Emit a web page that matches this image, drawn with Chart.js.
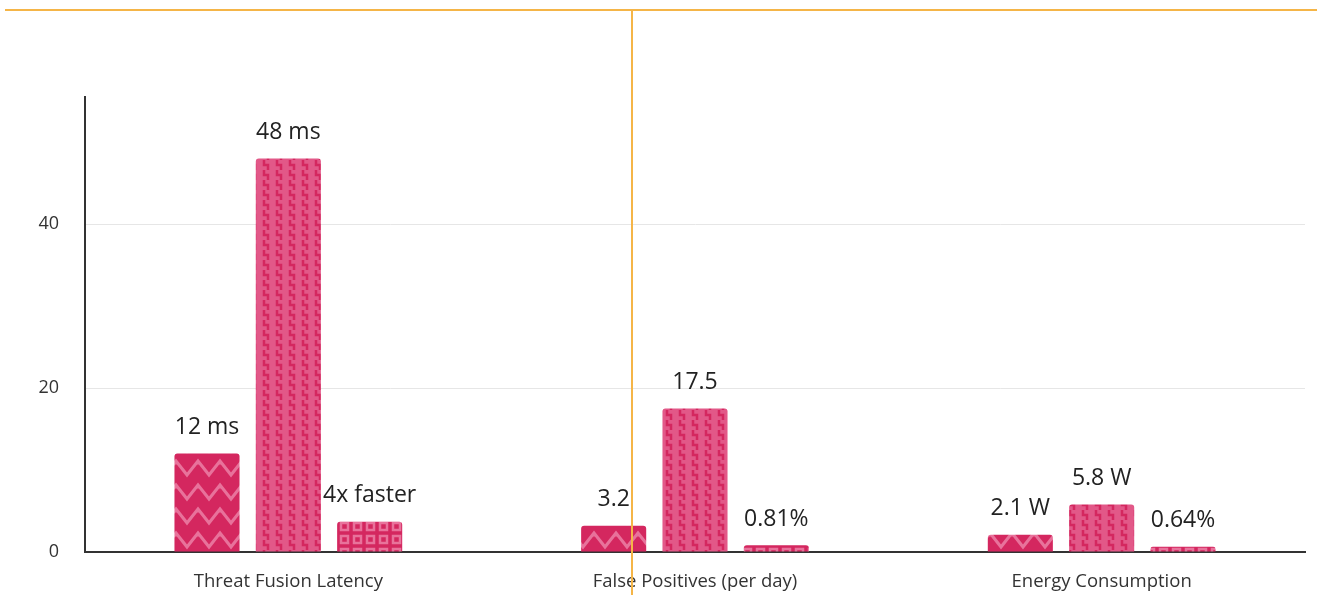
<!DOCTYPE html>
<html>
<head>
<meta charset="utf-8">
<script src="https://cdn.jsdelivr.net/npm/chart.js@4.4.1/dist/chart.umd.min.js"></script>
<style>
  html, body { margin: 0; padding: 0; background: #fff; }
  #wrap { width: 1320px; height: 595px; position: relative; }
</style>
</head>
<body>
<div id="wrap"><canvas id="myChart"></canvas></div>
<script>
// categories and series
const categories = ['Threat Fusion Latency', 'False Positives (per day)', 'Energy Consumption']
const fusedValues = [12, 3.2, 2.1]
const baselineValues = [48, 17.5, 5.8]
const gainValues = [3.7, 0.81, 0.64]
const fusedLabels = ['12 ms', '3.2', '2.1 W']
const baselineLabels = ['48 ms', '17.5', '5.8 W']
const gainLabels = ['4x faster', '0.81%', '0.64%']
const yTicks = [0, 20, 40]

const FONT = '"Open Sans", Lato, sans-serif'
const BASE = '#d4275f'
const LIGHT = '#e8729b'

function makeTile(w, h, draw) {
    let c = document.createElement('canvas')
    c.width = w
    c.height = h
    let g = c.getContext('2d')
    draw(g, w, h)
    return g.createPattern(c, 'repeat')
}

// zigzag lines
let zigzag = makeTile(22, 24, function(g, w, h) {
    g.fillStyle = BASE
    g.fillRect(0, 0, w, h)
    g.strokeStyle = LIGHT
    g.lineWidth = 3.2
    g.beginPath()
    g.moveTo(-5.5, 19)
    g.lineTo(0, 5)
    g.lineTo(11, 19)
    g.lineTo(22, 5)
    g.lineTo(27.5, 19)
    g.stroke()
})

// columns of little steps
let steps = makeTile(13, 10, function(g, w, h) {
    g.fillStyle = '#e25888'
    g.fillRect(0, 0, w, h)
    g.strokeStyle = BASE
    g.lineWidth = 2.5
    g.beginPath()
    g.moveTo(4, -1)
    g.lineTo(4, 5)
    g.lineTo(8, 5)
    g.lineTo(8, 11)
    g.stroke()
})

// square grid
let squares = makeTile(13, 13, function(g, w, h) {
    g.fillStyle = BASE
    g.fillRect(0, 0, w, h)
    g.strokeStyle = LIGHT
    g.lineWidth = 2.5
    g.strokeRect(3, 3, 7, 7)
})

const valueLabels = {
    id: 'valueLabels',
    afterDatasetsDraw(chart) {
        let ctx = chart.ctx
        ctx.save()
        ctx.font = '23px ' + FONT
        ctx.fillStyle = '#222'
        ctx.textAlign = 'center'
        ctx.textBaseline = 'middle'
        chart.data.datasets.forEach(function(ds, i) {
            chart.getDatasetMeta(i).data.forEach(function(bar, j) {
                ctx.fillText(ds.valueText[j], bar.x, bar.y - 26)
            })
        })
        ctx.restore()
    }
}

// thin orange guide lines across the top and down the middle
const guides = {
    id: 'guides',
    afterDraw(chart) {
        let ctx = chart.ctx
        ctx.save()
        ctx.strokeStyle = '#f5b547'
        ctx.lineWidth = 2
        ctx.beginPath()
        ctx.moveTo(5, 10)
        ctx.lineTo(chart.width - 3, 10)
        ctx.moveTo(632, 10)
        ctx.lineTo(632, chart.height)
        ctx.stroke()
        ctx.restore()
    }
}

var ctx = document.getElementById('myChart').getContext('2d')

var chart = new Chart(ctx, {
    type: 'bar',
    data: {
        labels: categories,
        datasets: [{
            label: 'Fused',
            data: fusedValues,
            valueText: fusedLabels,
            backgroundColor: zigzag
        }, {
            label: 'Baseline',
            data: baselineValues,
            valueText: baselineLabels,
            backgroundColor: steps
        }, {
            label: 'Gain',
            data: gainValues,
            valueText: gainLabels,
            backgroundColor: squares
        }]
    },
    options: {
        responsive: true,
        maintainAspectRatio: false,
        animation: false,
        categoryPercentage: 0.6,
        barPercentage: 0.8,
        borderRadius: 3,
        borderSkipped: 'bottom',
        layout: { padding: { top: 97, right: 15, left: 0, bottom: 0 } },
        plugins: {
            legend: { display: false },
            tooltip: { enabled: false }
        },
        scales: {
            x: {
                grid: { display: false, drawTicks: false },
                border: { color: '#333', width: 2 },
                ticks: { color: '#333', padding: 19, font: { family: FONT, size: 18.5 } },
                afterFit: function(scale) { scale.height = 43 }
            },
            y: {
                min: 0,
                max: 55.5,
                grid: { color: '#e6e6e6', drawTicks: false },
                border: { color: '#333', width: 2 },
                ticks: { color: '#333', padding: 26, font: { family: FONT, size: 18 } },
                afterBuildTicks: function(scale) {
                    scale.ticks = yTicks.map(function(v) { return { value: v } })
                },
                afterFit: function(scale) { scale.width = 85 }
            }
        }
    },
    plugins: [valueLabels, guides]
})
</script>
</body>
</html>
